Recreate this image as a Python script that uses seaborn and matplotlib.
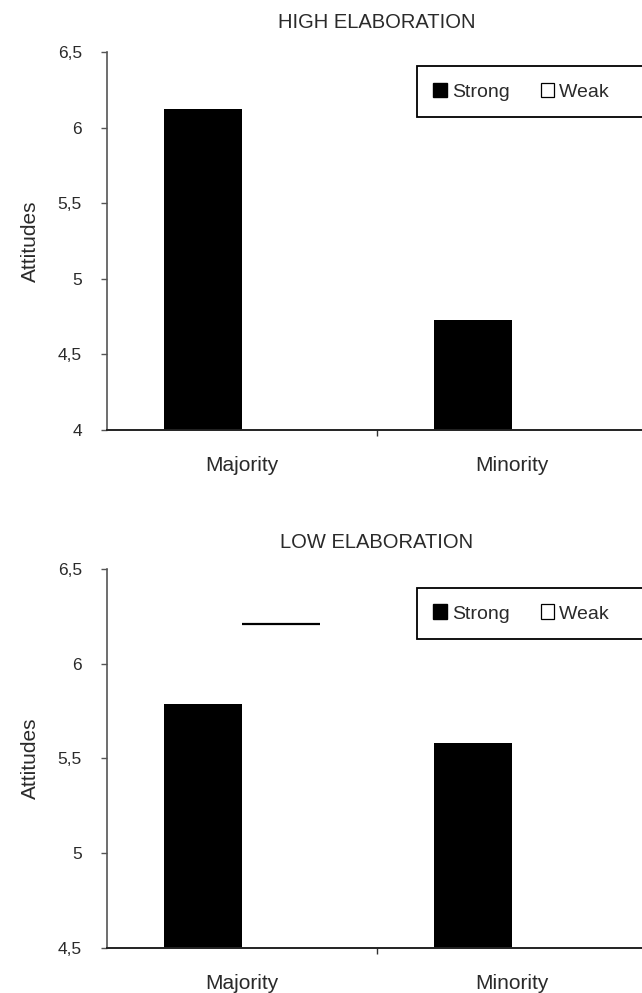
import matplotlib
matplotlib.use("Agg")
import matplotlib.pyplot as plt
import seaborn as sns
import pandas as pd
from matplotlib.patches import Patch
from matplotlib.ticker import FixedLocator

sns.set_style("white")
plt.rcParams['font.family'] = ['Liberation Sans', 'DejaVu Sans']

groups = ["Majority", "Minority"]
strengths = ["Strong", "Weak"]
high_strong = [6.12, 4.73]
high_weak = [4.52, 5.68]
low_strong = [5.79, 5.58]
low_weak = [6.21, 4.86]
high_ticks = [4, 4.5, 5, 5.5, 6, 6.5]
high_ticklabels = ["4", "4,5", "5", "5,5", "6", "6,5"]
low_ticks = [4.5, 5, 5.5, 6, 6.5]
low_ticklabels = ["4,5", "5", "5,5", "6", "6,5"]
titles = ["HIGH ELABORATION", "LOW ELABORATION"]
ylabel = "Attitudes"

TXT = "#2a2a2a"

def make_df(strong, weak):
    rows = []
    for g, s, w in zip(groups, strong, weak):
        rows.append({"group": g, "strength": "Strong", "value": s})
        rows.append({"group": g, "strength": "Weak", "value": w})
    return pd.DataFrame(rows)

fig = plt.figure(figsize=(6.42, 9.93), dpi=100)
W, H = 642, 993

def axes_px(left, top, right, bottom):
    return fig.add_axes([left / W, 1 - bottom / H, (right - left) / W, (bottom - top) / H])

ax1 = axes_px(107, 52, 647, 430)
ax2 = axes_px(107, 569, 647, 948)

configs = [
    (ax1, make_df(high_strong, high_weak), high_ticks, high_ticklabels, titles[0], (4, 6.5), 17, False),
    (ax2, make_df(low_strong, low_weak), low_ticks, low_ticklabels, titles[1], (4.5, 6.5), 15, True),
]

for ax, df, ticks, tlabels, title, ylim, tpad, topline in configs:
    sns.barplot(data=df, x="group", y="value", hue="strength", hue_order=strengths,
                order=groups, palette={"Strong": "black", "Weak": "white"},
                saturation=1, width=0.58, ax=ax, legend=False, errorbar=None,
                edgecolor="none", linewidth=0)
    ax.set_ylim(*ylim)
    ax.set_xlim(-0.5, 1.5)
    ax.set_yticks(ticks)
    ax.set_yticklabels(tlabels, fontsize=12.5, color=TXT)
    ax.set_xticks([0, 1])
    ax.set_xticklabels(groups, fontsize=15, color=TXT)
    ax.xaxis.set_minor_locator(FixedLocator([0.5]))
    ax.tick_params(axis="x", which="major", length=0, pad=19)
    ax.tick_params(axis="x", which="minor", length=4, width=1, color="#333333",
                   direction="out", bottom=True)
    ax.tick_params(axis="y", which="major", length=4, width=1, color="#555555",
                   direction="out", pad=14, left=True)
    ax.set_xlabel("")
    ax.set_ylabel(ylabel, fontsize=15, color=TXT)
    ax.yaxis.set_label_coords(-0.125, 0.5)
    ax.set_title(title, fontsize=14.5, color=TXT, pad=tpad)
    for side in ["top", "right"]:
        ax.spines[side].set_visible(False)
    ax.spines["left"].set_color("#555555")
    ax.spines["left"].set_linewidth(1.2)
    ax.spines["bottom"].set_color("#222222")
    ax.spines["bottom"].set_linewidth(1.4)
    if topline:
        # top edge of the weak majority bar is visible in the reference
        weak_patches = [p for p in ax.patches if p.get_facecolor()[:3] == (1.0, 1.0, 1.0)]
        if weak_patches:
            p = sorted(weak_patches, key=lambda q: q.get_x())[0]
            ax.hlines(p.get_height(), p.get_x(), p.get_x() + p.get_width(),
                      color="black", linewidth=1.6)
    handles = [Patch(facecolor="black", edgecolor="black", label=strengths[0]),
               Patch(facecolor="white", edgecolor="black", linewidth=0.9,
                     label=strengths[1] + "      ")]
    leg = ax.legend(handles=handles, loc="upper left", ncol=2,
                    bbox_to_anchor=(0.574, 0.963 if not topline else 0.95),
                    frameon=True, fancybox=False, framealpha=1, edgecolor="black",
                    fontsize=14, handlelength=0.7, handleheight=0.8,
                    handletextpad=0.25, columnspacing=1.6, borderpad=0.85,
                    borderaxespad=0)
    leg.get_frame().set_linewidth(1.3)
    for t in leg.get_texts():
        t.set_color(TXT)

fig.savefig("out.png", dpi=100)
